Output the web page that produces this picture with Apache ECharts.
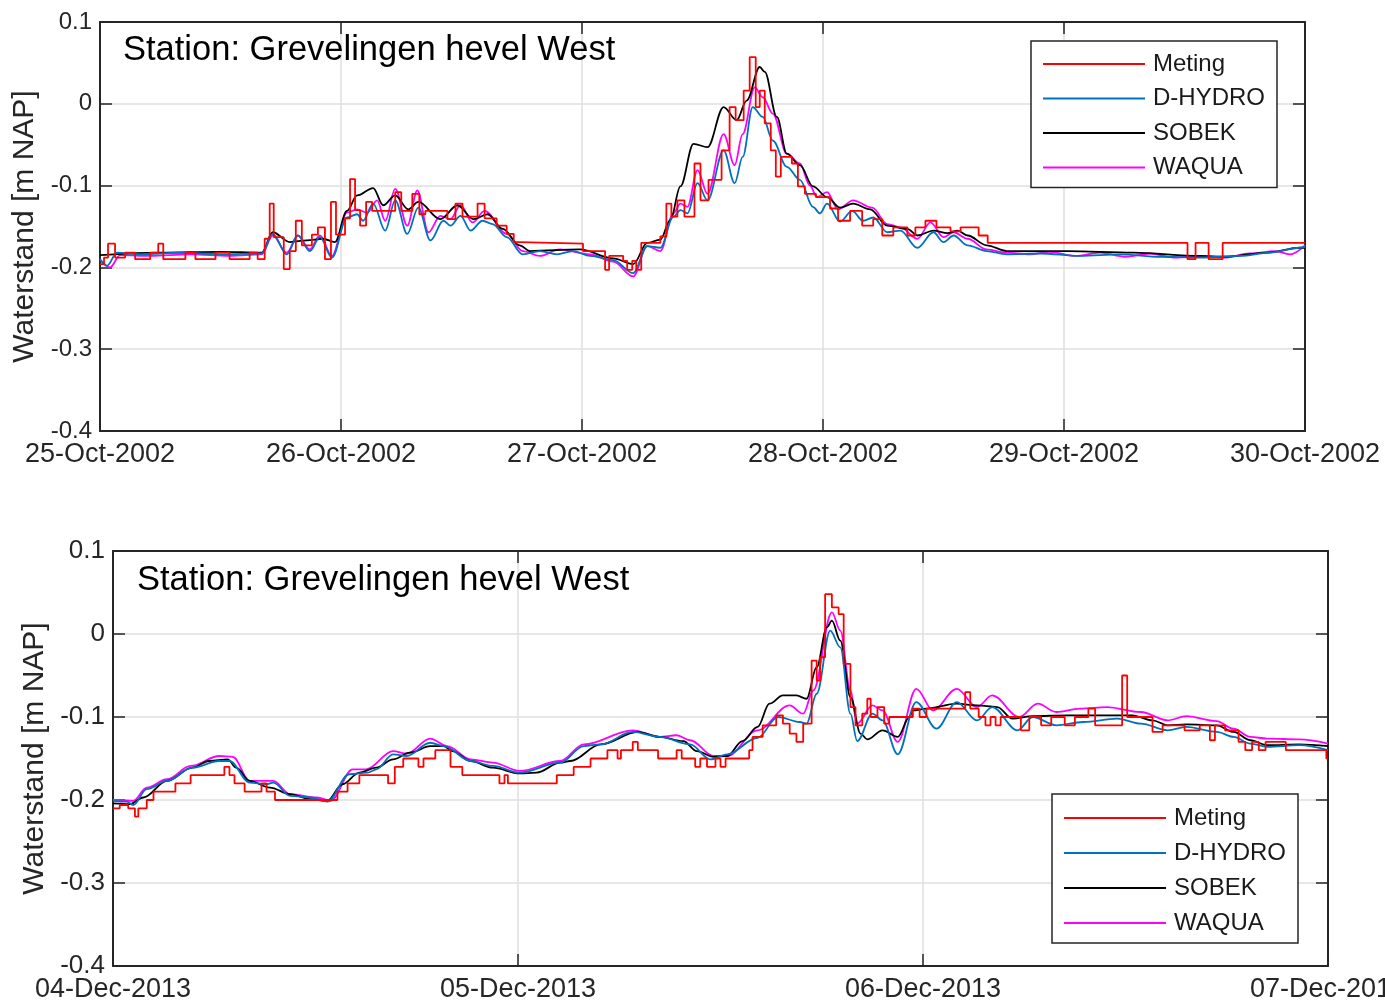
<!DOCTYPE html>
<html>
<head>
<meta charset="utf-8">
<title>Waterstand Grevelingen hevel West</title>
<script src="https://cdn.jsdelivr.net/npm/echarts@6/dist/echarts.min.js"></script>
<style>
  html, body { margin: 0; padding: 0; background: #fff; }
  #chart { width: 1385px; height: 1003px; }
</style>
</head>
<body>
<div id="chart"></div>
<script>
// x = hours since the first tick label, y = waterstand [m NAP]
const topDays = ['25-Oct-2002', '26-Oct-2002', '27-Oct-2002', '28-Oct-2002', '29-Oct-2002', '30-Oct-2002'];
const bottomDays = ['04-Dec-2013', '05-Dec-2013', '06-Dec-2013', '07-Dec-2013'];
const seriesNames = ['Meting', 'D-HYDRO', 'SOBEK', 'WAQUA'];
const seriesColors = ['#ff0000', '#0072bd', '#000000', '#ff00ff'];

// --- Oct 2002 ---
const metingOct = [
  [0, -0.196], [0.4, -0.188], [0.8, -0.171], [1.5, -0.188], [2.5, -0.182], [3.5, -0.19], [5.0, -0.182],
  [5.8, -0.171], [6.3, -0.19], [8.5, -0.182], [9.5, -0.19], [11.5, -0.182], [12.9, -0.19], [14.9, -0.182],
  [15.7, -0.19], [16.4, -0.165], [16.9, -0.122], [17.3, -0.163], [18.3, -0.202], [18.9, -0.18], [19.5, -0.143],
  [20.1, -0.173], [21.1, -0.16], [21.7, -0.151], [22.4, -0.19], [23.0, -0.12], [23.5, -0.16], [24.4, -0.14],
  [24.9, -0.092], [25.4, -0.13], [25.9, -0.149], [26.5, -0.12], [27.1, -0.131], [28.7, -0.131], [29.4, -0.108],
  [30.0, -0.131], [31.1, -0.11], [31.8, -0.135], [32.4, -0.131], [34.6, -0.141], [35.4, -0.122], [36.1, -0.138],
  [37.6, -0.122], [38.3, -0.14], [39.5, -0.149], [40.5, -0.159], [41.2, -0.169], [41.8, -0.171], [48.1, -0.18],
  [50.3, -0.203], [50.7, -0.186], [52.1, -0.192], [52.5, -0.203], [53.0, -0.192], [53.4, -0.203], [53.9, -0.17],
  [55.8, -0.162], [56.4, -0.122], [56.9, -0.138], [57.5, -0.118], [58.2, -0.138], [59.2, -0.073], [59.8, -0.118],
  [60.6, -0.093], [61.9, -0.057], [62.7, -0.004], [63.3, -0.02], [64.1, 0.016], [64.7, 0.057], [65.3, -0.004],
  [65.7, 0.016], [66.2, -0.024], [66.8, -0.057], [67.3, -0.089], [67.8, -0.065], [68.9, -0.073], [69.5, -0.101],
  [70.2, -0.11], [71.3, -0.114], [72.7, -0.128], [73.5, -0.143], [74.7, -0.131], [75.9, -0.149], [77.0, -0.141],
  [77.9, -0.161], [79.0, -0.151], [80.4, -0.161], [81.2, -0.151], [82.2, -0.143], [83.3, -0.151], [84.7, -0.156],
  [85.7, -0.151], [87.5, -0.161], [88.4, -0.17], [108.3, -0.19], [109.1, -0.17], [110.4, -0.19], [111.8, -0.17],
  [120, -0.17]
];
const dhydroOct = [
  [0, -0.19], [0.7, -0.198], [1.7, -0.182], [4.0, -0.184], [8.0, -0.182], [12.0, -0.184], [16.1, -0.183],
  [17.2, -0.159], [18.6, -0.184], [19.7, -0.161], [20.9, -0.18], [21.9, -0.163], [23.1, -0.188], [24.6, -0.139],
  [25.6, -0.135], [26.2, -0.143], [27.2, -0.122], [28.4, -0.155], [29.4, -0.118], [30.6, -0.159], [31.7, -0.127],
  [32.9, -0.167], [34.2, -0.143], [34.9, -0.149], [35.9, -0.137], [36.9, -0.155], [38.1, -0.143], [39.1, -0.147],
  [40.5, -0.163], [42.1, -0.184], [43.8, -0.18], [45.5, -0.184], [47.1, -0.18], [48.8, -0.186], [51.1, -0.191],
  [53.1, -0.207], [54.5, -0.174], [55.8, -0.176], [57.1, -0.138], [57.8, -0.13], [58.5, -0.134], [59.5, -0.097],
  [60.5, -0.118], [62.1, -0.057], [63.2, -0.097], [64.0, -0.065], [65.0, -0.004], [66.0, -0.016], [67.0, -0.045],
  [68.4, -0.077], [69.7, -0.093], [71.0, -0.126], [71.7, -0.134], [72.4, -0.122], [73.7, -0.144], [74.9, -0.131],
  [76.0, -0.143], [77.0, -0.139], [78.4, -0.157], [79.7, -0.155], [81.4, -0.176], [83.0, -0.157], [84.0, -0.169],
  [85.0, -0.161], [86.4, -0.173], [88.3, -0.18], [90.3, -0.184], [93.6, -0.183], [97.6, -0.186], [101.6, -0.184],
  [105.6, -0.187], [109.6, -0.188], [113.5, -0.186], [116.5, -0.182], [119.5, -0.176], [120, -0.175]
];
const sobekOct = [
  [0, -0.185], [6.0, -0.182], [12.0, -0.181], [16.1, -0.182], [17.2, -0.157], [18.9, -0.169], [20.6, -0.167],
  [22.2, -0.165], [23.4, -0.169], [24.6, -0.131], [25.6, -0.112], [27.2, -0.103], [28.2, -0.124], [29.4, -0.112],
  [30.7, -0.129], [31.7, -0.12], [33.9, -0.141], [35.6, -0.124], [37.2, -0.141], [38.6, -0.135], [40.1, -0.153],
  [41.8, -0.173], [42.8, -0.18], [47.8, -0.178], [51.1, -0.189], [53.1, -0.196], [54.5, -0.17], [55.8, -0.166],
  [56.8, -0.142], [57.8, -0.101], [59.1, -0.049], [60.5, -0.053], [62.1, -0.004], [63.4, -0.02], [64.4, 0.004],
  [65.7, 0.045], [66.2, 0.039], [67.4, -0.016], [68.4, -0.061], [69.7, -0.075], [71.0, -0.101], [72.4, -0.114],
  [73.7, -0.127], [75.0, -0.122], [76.7, -0.129], [78.4, -0.149], [80.4, -0.153], [81.4, -0.161], [83.0, -0.155],
  [84.4, -0.158], [85.4, -0.155], [86.4, -0.161], [88.3, -0.173], [90.3, -0.18], [96.3, -0.18], [102.9, -0.182],
  [109.6, -0.186], [111.9, -0.187], [116.3, -0.182], [119.5, -0.176], [120, -0.176]
];
const waquaOct = [
  [0, -0.19], [1.0, -0.2], [2.0, -0.185], [5.0, -0.186], [9.0, -0.184], [12.9, -0.186], [16.1, -0.184],
  [17.2, -0.161], [18.6, -0.182], [19.7, -0.161], [20.9, -0.178], [21.9, -0.161], [23.1, -0.186], [24.6, -0.133],
  [25.6, -0.129], [26.6, -0.133], [27.6, -0.118], [28.4, -0.143], [29.4, -0.104], [30.6, -0.149], [31.6, -0.106],
  [32.7, -0.157], [33.9, -0.137], [34.9, -0.141], [35.9, -0.124], [37.1, -0.145], [38.3, -0.131], [40.5, -0.159],
  [42.1, -0.18], [43.8, -0.186], [45.8, -0.178], [48.8, -0.184], [51.1, -0.193], [53.1, -0.211], [54.5, -0.174],
  [55.8, -0.18], [57.1, -0.134], [57.8, -0.122], [58.5, -0.126], [59.5, -0.081], [60.5, -0.11], [62.1, -0.037],
  [63.2, -0.075], [64.0, -0.037], [65.2, 0.02], [66.0, 0.008], [67.0, -0.012], [68.4, -0.061], [69.7, -0.073],
  [70.7, -0.1], [71.4, -0.114], [72.4, -0.108], [73.5, -0.129], [75.0, -0.118], [76.9, -0.127], [78.4, -0.147],
  [79.7, -0.151], [81.4, -0.165], [82.7, -0.145], [84.0, -0.163], [85.0, -0.157], [86.4, -0.165], [88.3, -0.178],
  [90.3, -0.182], [92.6, -0.184], [94.6, -0.181], [97.1, -0.186], [99.6, -0.182], [102.1, -0.187], [104.6, -0.183],
  [107.1, -0.188], [109.6, -0.186], [112.0, -0.188], [114.5, -0.183], [117.0, -0.18], [118.5, -0.184], [120, -0.173]
];

// --- Dec 2013 ---
const metingDec = [
  [0, -0.21], [0.4, -0.206], [0.9, -0.21], [1.3, -0.22], [1.5, -0.21], [2.0, -0.2], [2.4, -0.19], [3.7, -0.18],
  [4.6, -0.17], [6.6, -0.16], [6.9, -0.17], [7.2, -0.18], [7.8, -0.19], [8.8, -0.18], [9.1, -0.19], [9.6, -0.2],
  [13.3, -0.19], [13.9, -0.18], [14.6, -0.17], [16.3, -0.18], [16.7, -0.16], [17.2, -0.15], [18.1, -0.16],
  [18.4, -0.15], [19.1, -0.14], [20.0, -0.16], [20.7, -0.17], [22.9, -0.18], [23.2, -0.17], [23.4, -0.18],
  [26.3, -0.17], [27.3, -0.16], [28.3, -0.15], [29.3, -0.14], [29.9, -0.15], [30.1, -0.14], [30.8, -0.13],
  [31.1, -0.14], [32.3, -0.15], [33.4, -0.14], [33.7, -0.15], [34.5, -0.16], [34.8, -0.15], [35.2, -0.16],
  [35.7, -0.15], [36.0, -0.16], [36.3, -0.15], [37.7, -0.14], [37.9, -0.124], [38.5, -0.11], [39.3, -0.098],
  [39.7, -0.108], [40.1, -0.12], [40.5, -0.13], [40.9, -0.108], [41.4, -0.032], [41.7, -0.056], [41.9, -0.028],
  [42.2, 0.048], [42.6, 0.032], [43.0, 0.024], [43.3, -0.036], [43.7, -0.088], [44.0, -0.11], [44.4, -0.096],
  [44.7, -0.078], [44.9, -0.1], [45.3, -0.088], [45.7, -0.108], [46.0, -0.1], [47.4, -0.09], [47.8, -0.1],
  [48.2, -0.09], [50.5, -0.07], [50.8, -0.09], [51.3, -0.1], [51.7, -0.11], [52.0, -0.1], [52.3, -0.11],
  [52.6, -0.1], [53.8, -0.116], [54.3, -0.1], [55.0, -0.11], [55.6, -0.1], [56.4, -0.11], [57.0, -0.1],
  [57.8, -0.09], [58.2, -0.11], [59.8, -0.05], [60.1, -0.1], [61.6, -0.118], [62.2, -0.11], [63.5, -0.116],
  [64.4, -0.11], [65.0, -0.128], [65.3, -0.11], [65.9, -0.116], [66.7, -0.13], [67.1, -0.14], [67.5, -0.13],
  [67.9, -0.14], [68.3, -0.13], [69.5, -0.14], [71.9, -0.15], [72, -0.15]
];
const dhydroDec = [
  [0, -0.201], [0.8, -0.202], [1.2, -0.206], [2.0, -0.187], [3.2, -0.177], [4.7, -0.161], [6.3, -0.153],
  [6.9, -0.153], [8.1, -0.179], [9.1, -0.181], [9.5, -0.179], [10.5, -0.195], [11.7, -0.197], [12.7, -0.202],
  [14.0, -0.169], [15.1, -0.167], [15.6, -0.163], [16.6, -0.145], [17.4, -0.147], [18.8, -0.131], [19.6, -0.135],
  [21.2, -0.153], [22.5, -0.159], [24.1, -0.167], [26.5, -0.155], [27.9, -0.135], [28.9, -0.133], [30.8, -0.118],
  [32.4, -0.124], [34.2, -0.133], [35.4, -0.151], [36.4, -0.145], [38.2, -0.125], [39.4, -0.1], [40.7, -0.106],
  [41.1, -0.108], [41.7, -0.072], [42.5, 0.004], [43.1, -0.016], [43.7, -0.096], [44.1, -0.129], [45.0, -0.096],
  [45.6, -0.104], [46.5, -0.145], [47.6, -0.082], [48.8, -0.114], [50.0, -0.082], [51.2, -0.104], [52.1, -0.088],
  [53.6, -0.116], [54.5, -0.1], [55.9, -0.11], [57.5, -0.106], [59.5, -0.102], [60.9, -0.108], [62.5, -0.116],
  [63.6, -0.112], [65.4, -0.118], [66.4, -0.124], [67.4, -0.132], [68.4, -0.136], [70.3, -0.134], [72, -0.14]
];
const sobekDec = [
  [0, -0.204], [1.0, -0.205], [1.8, -0.197], [3.2, -0.177], [4.7, -0.161], [5.7, -0.153], [6.8, -0.151],
  [7.3, -0.161], [8.1, -0.177], [9.3, -0.185], [10.5, -0.193], [11.7, -0.199], [12.7, -0.201], [13.6, -0.181],
  [14.6, -0.167], [15.6, -0.161], [16.6, -0.151], [17.6, -0.143], [18.8, -0.135], [19.6, -0.135], [20.1, -0.141],
  [21.2, -0.153], [22.5, -0.161], [24.1, -0.168], [25.1, -0.167], [26.5, -0.155], [27.1, -0.153], [28.9, -0.133],
  [31.1, -0.118], [32.4, -0.124], [33.8, -0.129], [34.6, -0.141], [35.6, -0.148], [36.4, -0.147], [37.3, -0.129],
  [38.2, -0.112], [38.9, -0.084], [39.7, -0.074], [40.5, -0.074], [41.1, -0.078], [41.7, -0.04], [42.3, 0.008],
  [42.6, 0.016], [43.1, -0.008], [43.7, -0.076], [44.3, -0.12], [44.7, -0.127], [45.6, -0.116], [46.5, -0.124],
  [47.2, -0.1], [47.4, -0.092], [48.2, -0.09], [50.0, -0.084], [51.2, -0.086], [52.4, -0.088], [53.3, -0.102],
  [54.5, -0.099], [56.5, -0.098], [60.4, -0.098], [61.6, -0.104], [62.5, -0.11], [63.6, -0.109], [65.4, -0.11],
  [66.4, -0.118], [67.4, -0.128], [68.4, -0.134], [70.3, -0.133], [72, -0.135]
];
const waquaDec = [
  [0, -0.2], [1.2, -0.201], [2.0, -0.185], [3.2, -0.175], [4.6, -0.159], [6.3, -0.147], [7.1, -0.148],
  [8.1, -0.177], [9.5, -0.177], [10.5, -0.193], [12.1, -0.197], [12.9, -0.201], [14.2, -0.163], [15.0, -0.163],
  [16.6, -0.141], [17.4, -0.144], [18.8, -0.126], [19.8, -0.135], [21.2, -0.151], [22.5, -0.155], [24.1, -0.165],
  [26.5, -0.153], [27.9, -0.133], [30.8, -0.116], [32.4, -0.124], [33.4, -0.122], [34.2, -0.128], [35.6, -0.147],
  [36.4, -0.147], [38.2, -0.116], [40.1, -0.086], [40.9, -0.096], [41.5, -0.068], [42.6, 0.026], [43.1, 0.004],
  [43.7, -0.068], [44.1, -0.108], [45.0, -0.086], [45.6, -0.092], [46.5, -0.13], [47.6, -0.066], [48.6, -0.092],
  [50.0, -0.066], [51.2, -0.088], [52.1, -0.074], [53.7, -0.1], [54.8, -0.084], [55.9, -0.094], [57.3, -0.09],
  [58.9, -0.088], [60.9, -0.094], [62.5, -0.104], [63.6, -0.099], [65.4, -0.105], [66.4, -0.114], [67.4, -0.124],
  [68.4, -0.126], [70.3, -0.127], [72, -0.132]
];

const fontFamily = 'Liberation Sans, Arial, Helvetica, sans-serif';
const axisColor = '#262626';

function xAxes(gridIndex, days) {
  const max = (days.length - 1) * 24;
  const base = {
    gridIndex: gridIndex, type: 'value', min: 0, max: max, interval: 24,
    axisLine: { onZero: false, lineStyle: { color: axisColor, width: 2 } },
    axisTick: { inside: true, length: 12, lineStyle: { color: axisColor, width: 1.5 } }
  };
  return [
    Object.assign({}, base, {
      position: 'bottom',
      axisLabel: {
        margin: 10, color: axisColor, fontSize: 27, fontFamily: fontFamily,
        formatter: v => days[Math.round(v / 24)]
      },
      splitLine: { show: true, lineStyle: { color: '#dfdfdf', width: 1.5 } }
    }),
    Object.assign({}, base, { position: 'top', axisLabel: { show: false }, splitLine: { show: false } })
  ];
}

function yAxes(gridIndex, labelSize, nameGap) {
  const base = {
    gridIndex: gridIndex, type: 'value', min: -0.4, max: 0.1, interval: 0.1,
    axisLine: { show: true, onZero: false, lineStyle: { color: axisColor, width: 2 } },
    axisTick: { show: true, inside: true, length: 12, lineStyle: { color: axisColor, width: 1.5 } }
  };
  return [
    Object.assign({}, base, {
      position: 'left',
      name: 'Waterstand [m NAP]', nameLocation: 'middle', nameGap: nameGap,
      nameTextStyle: { fontSize: 30, color: axisColor, fontFamily: fontFamily },
      axisLabel: {
        margin: 8, color: axisColor, fontSize: labelSize, fontFamily: fontFamily,
        formatter: v => String(Math.round(v * 10) / 10)
      },
      splitLine: { show: true, lineStyle: { color: '#dfdfdf', width: 1.5 } }
    }),
    Object.assign({}, base, { position: 'right', axisLabel: { show: false }, splitLine: { show: false } })
  ];
}

function lineSeries(name, data, axisIdx) {
  const i = seriesNames.indexOf(name);
  const s = {
    name: name, type: 'line', data: data, xAxisIndex: axisIdx, yAxisIndex: axisIdx,
    symbol: 'none', showSymbol: false, animation: false,
    lineStyle: { color: seriesColors[i], width: 1.8 },
    itemStyle: { color: seriesColors[i] },
    z: 10 - i
  };
  if (name === 'Meting') s.step = 'end';
  else { s.smooth = 0.35; s.smoothMonotone = 'x'; }
  return s;
}

function legendAt(left, top, padding, gap) {
  return {
    data: seriesNames, orient: 'vertical', left: left, top: top,
    icon: 'rect', itemWidth: 102, itemHeight: 2, itemGap: gap, padding: padding,
    borderColor: axisColor, borderWidth: 1.5, backgroundColor: '#fff',
    textStyle: { fontSize: 24, color: '#1a1a1a', fontFamily: fontFamily, padding: [0, 0, 0, 3] },
    selectedMode: false, z: 20
  };
}

const chart = echarts.init(document.getElementById('chart'));
chart.setOption({
  backgroundColor: '#fff',
  animation: false,
  title: [
    { text: 'Station: Grevelingen hevel West', left: 123, top: 33, padding: 0,
      textStyle: { fontSize: 34.5, fontWeight: 'normal', color: '#000', fontFamily: fontFamily } },
    { text: 'Station: Grevelingen hevel West', left: 137, top: 563, padding: 0,
      textStyle: { fontSize: 34.5, fontWeight: 'normal', color: '#000', fontFamily: fontFamily } }
  ],
  legend: [
    legendAt(1031, 41, [11, 12, 8, 12], 10.5),
    legendAt(1052, 794, [12, 12, 8, 12], 11)
  ],
  grid: [
    { left: 100, top: 22, width: 1205, height: 409, outerBoundsMode: 'none' },
    { left: 113, top: 551, width: 1215, height: 415, outerBoundsMode: 'none' }
  ],
  xAxis: xAxes(0, topDays).concat(xAxes(1, bottomDays)),
  yAxis: yAxes(0, 24, 60).concat(yAxes(1, 26, 60)),
  series: [
    lineSeries('Meting', metingOct, 0),
    lineSeries('D-HYDRO', dhydroOct, 0),
    lineSeries('SOBEK', sobekOct, 0),
    lineSeries('WAQUA', waquaOct, 0),
    lineSeries('Meting', metingDec, 2),
    lineSeries('D-HYDRO', dhydroDec, 2),
    lineSeries('SOBEK', sobekDec, 2),
    lineSeries('WAQUA', waquaDec, 2)
  ]
});
</script>
</body>
</html>
